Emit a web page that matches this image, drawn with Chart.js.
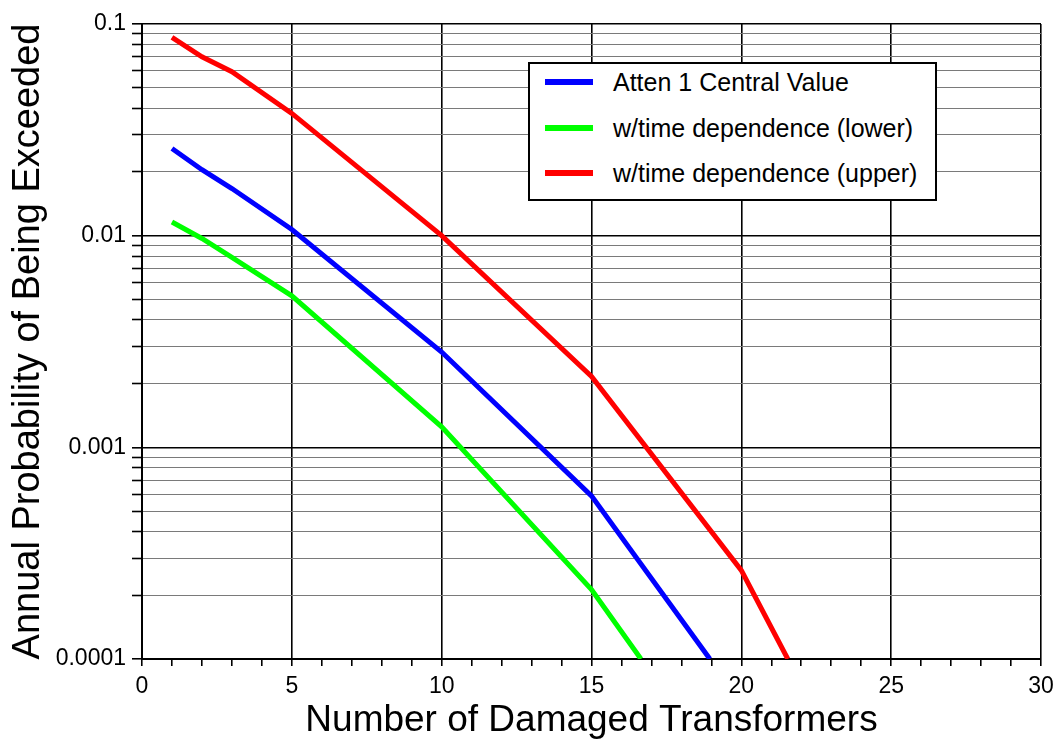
<!DOCTYPE html>
<html>
<head>
<meta charset="utf-8">
<script src="https://cdn.jsdelivr.net/npm/chart.js@4/dist/chart.umd.min.js"></script>
<style>
  body { margin: 0; background: #fff; }
  #wrap { position: relative; width: 1054px; height: 740px; }
  #legend {
    position: absolute; left: 528px; top: 62px; width: 409px; height: 139px;
    box-sizing: border-box; border: 2px solid #000; background: #fff;
    font-family: 'Liberation Sans', Arial, sans-serif; font-size: 25px; color: #000;
  }
  .row { position: absolute; left: 0; height: 28px; line-height: 28px; white-space: nowrap; }
  .swatch { position: absolute; left: 15px; top: 11px; width: 48px; height: 6px; }
  .label { position: absolute; left: 83px; top: 0; }
</style>
</head>
<body>
<div id="wrap">
  <canvas id="chart" width="1054" height="740"></canvas>
  <div id="legend"></div>
</div>
<script>
// series
const seriesNames = ['Atten 1 Central Value', 'w/time dependence (lower)', 'w/time dependence (upper)'];
const seriesColors = ['#0000ff', '#00ff00', '#ff0000'];

const xCentral = [1, 2, 3, 5, 10, 15, 18.95];
const pCentral = [0.0258, 0.0205, 0.0167, 0.0107, 0.00282, 0.00059, 0.0001];

const xLower = [1, 2, 3, 5, 10, 15, 16.65];
const pLower = [0.0116, 0.0097, 0.0079, 0.0052, 0.00125, 0.000213, 0.0001];

const xUpper = [1, 2, 3, 5, 10, 15, 20, 21.55];
const pUpper = [0.0865, 0.070, 0.0595, 0.0378, 0.0100, 0.00216, 0.000262, 0.0001];

const yMajor = [0.0001, 0.001, 0.01, 0.1];
const yTickLabels = ['0.0001', '0.001', '0.01', '0.1'];
const yMinorSteps = [2, 3, 4, 5, 6, 7, 8, 9];
const xLabelEvery = 5;

const FONT = "'Liberation Sans', Arial, sans-serif";

function toPoints(xs, ys) {
    return xs.map((x, i) => ({ x: x, y: ys[i] }));
}

function isMajorY(v) {
    return yMajor.some(m => Math.abs(v - m) / m < 1e-6);
}

const datasets = [
    { label: seriesNames[0], data: toPoints(xCentral, pCentral), borderColor: seriesColors[0] },
    { label: seriesNames[1], data: toPoints(xLower, pLower), borderColor: seriesColors[1] },
    { label: seriesNames[2], data: toPoints(xUpper, pUpper), borderColor: seriesColors[2] }
].map(d => Object.assign(d, { borderWidth: 5, pointRadius: 0, fill: false, tension: 0 }));

const ctx = document.getElementById('chart').getContext('2d');
new Chart(ctx, {
    type: 'line',
    data: { datasets: datasets },
    options: {
        responsive: false,
        animation: false,
        devicePixelRatio: 1,
        layout: { padding: { top: 24, right: 13, left: 0, bottom: 0 } },
        plugins: { legend: { display: false }, tooltip: { enabled: false } },
        scales: {
            x: {
                type: 'linear',
                min: 0,
                max: 30,
                afterFit: scale => {
                    scale.height = 81;
                    scale.paddingLeft = 0;
                    scale.paddingRight = 0;
                },
                ticks: {
                    stepSize: 1,
                    autoSkip: false,
                    maxRotation: 0,
                    padding: 7,
                    color: '#000',
                    font: { family: FONT, size: 23 },
                    callback: v => (v % xLabelEvery === 0 ? String(v) : '')
                },
                grid: {
                    color: c => (c.tick && c.tick.value % xLabelEvery === 0 ? '#000' : 'rgba(0,0,0,0)'),
                    lineWidth: 1.6,
                    tickColor: '#000',
                    tickLength: 7,
                    tickWidth: 1.6
                },
                border: { color: '#000', width: 2 },
                title: {
                    display: true,
                    text: 'Number of Damaged Transformers',
                    color: '#000',
                    font: { family: FONT, size: 37, lineHeight: 1 },
                    padding: { top: 0, bottom: 1 }
                }
            },
            y: {
                type: 'logarithmic',
                min: 0.0001,
                max: 0.1,
                afterFit: scale => { scale.width = 142; },
                afterBuildTicks: scale => {
                    const vals = [];
                    yMajor.forEach((m, i) => {
                        vals.push(m);
                        if (i < yMajor.length - 1) yMinorSteps.forEach(s => vals.push(m * s));
                    });
                    scale.ticks = vals.map(v => ({ value: v }));
                },
                ticks: {
                    autoSkip: false,
                    padding: 6,
                    color: '#000',
                    font: { family: FONT, size: 23 },
                    callback: v => {
                        const i = yMajor.findIndex(m => Math.abs(v - m) / m < 1e-6);
                        return i >= 0 ? yTickLabels[i] : '';
                    }
                },
                grid: {
                    color: c => (c.tick && isMajorY(c.tick.value) ? '#000' : '#7a7a7a'),
                    lineWidth: c => (c.tick && isMajorY(c.tick.value) ? 1.6 : 1),
                    tickColor: '#000',
                    tickLength: 10,
                    tickWidth: 1.6
                },
                border: { color: '#000', width: 2 },
                title: {
                    display: true,
                    text: 'Annual Probability of Being Exceeded',
                    color: '#000',
                    font: { family: FONT, size: 38, lineHeight: 1 },
                    padding: { top: 10, bottom: 0 }
                }
            }
        }
    }
});

// legend drawn as a boxed overlay inside the plot
const legendEl = document.getElementById('legend');
seriesNames.forEach((name, i) => {
    const row = document.createElement('div');
    row.className = 'row';
    row.style.top = (4 + i * 45.5) + 'px';
    row.style.width = '100%';
    row.innerHTML = '<span class="swatch" style="background:' + seriesColors[i] + '"></span>' +
        '<span class="label">' + name + '</span>';
    legendEl.appendChild(row);
});
</script>
</body>
</html>
